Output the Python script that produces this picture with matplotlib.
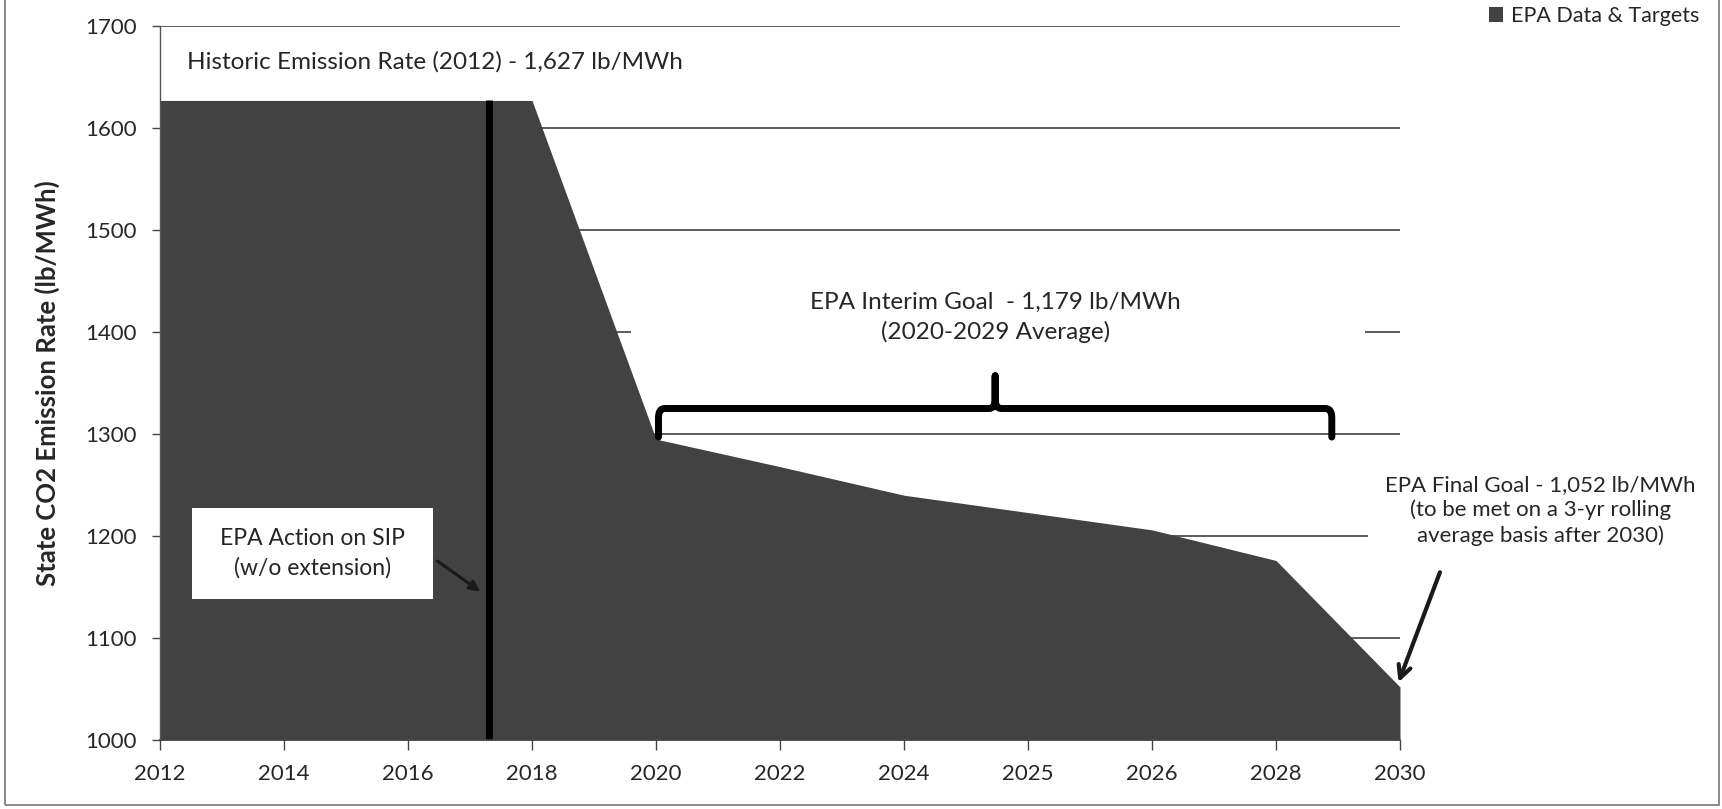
import matplotlib.pyplot as plt
from matplotlib.patches import Rectangle, PathPatch
from matplotlib.path import Path

plt.rcParams["font.family"] = ["Lato", "DejaVu Sans"]

# category axis (evenly spaced, like the original Excel chart)
years = ["2012", "2014", "2016", "2018", "2020", "2022", "2024", "2025", "2026", "2028", "2030"]
rates = [1627, 1627, 1627, 1627, 1295, 1268, 1240, 1223, 1206, 1176, 1052]
series_label = "EPA Data & Targets"

y_ticks = [1000, 1100, 1200, 1300, 1400, 1500, 1600, 1700]
sip_action_pos = 2.65      # between 2016 and 2018
interim_start, interim_end = 4.02, 9.45   # 2020 .. 2029

AREA = "#424242"
TXT = "#262626"

fig = plt.figure(figsize=(17.22, 8.09), dpi=100)
ax = fig.add_axes([160 / 1722, 1 - 740 / 809, 1240 / 1722, 714 / 809])

x = list(range(len(years)))

# gridlines (behind everything)
for v in y_ticks[1:]:
    ax.axhline(v, color="#303030", lw=1.1, zorder=0.5)

# white text boxes which hide parts of the gridlines
ax.add_patch(Rectangle((3.80, 1362), 5.92, 110, facecolor="white", edgecolor="none", zorder=0.8))
ax.add_patch(Rectangle((9.74, 1150), 1.0, 128, facecolor="white", edgecolor="none", zorder=0.8))

ax.fill_between(x, 1000, rates, color=AREA, lw=0, zorder=1, label=series_label)

# EPA action on SIP line
ax.plot([sip_action_pos, sip_action_pos], [1000, rates[0]], color="black", lw=5,
        zorder=2, solid_capstyle="butt", clip_on=False)

# interim goal bracket
yh, yend, ytip = 1325, 1297, 1357
xm = (interim_start + interim_end) / 2
rx, ry = 0.05, 9
verts = [(interim_start, yend), (interim_start, yh - ry), (interim_start, yh), (interim_start + rx, yh),
         (xm - rx, yh), (xm, yh), (xm, yh + ry), (xm, ytip),
         (xm, yh + ry), (xm, yh), (xm + rx, yh),
         (interim_end - rx, yh), (interim_end, yh), (interim_end, yh - ry), (interim_end, yend)]
codes = [Path.MOVETO, Path.LINETO, Path.CURVE3, Path.CURVE3,
         Path.LINETO, Path.CURVE3, Path.CURVE3, Path.LINETO,
         Path.LINETO, Path.CURVE3, Path.CURVE3,
         Path.LINETO, Path.CURVE3, Path.CURVE3, Path.LINETO]
ax.add_patch(PathPatch(Path(verts, codes), fill=False, lw=5, edgecolor="black",
                       capstyle="round", joinstyle="round", zorder=4))

# annotations
ax.text(0.22, 1665, "Historic Emission Rate (2012) - 1,627 lb/MWh", fontsize=17.5,
        color=TXT, ha="left", va="center", zorder=5)
ax.text(xm, 1414, "EPA Interim Goal  - 1,179 lb/MWh\n(2020-2029 Average)", fontsize=17.5,
        color=TXT, ha="center", va="center", linespacing=1.45, zorder=5)
ax.text(11.13, 1225, "EPA Final Goal - 1,052 lb/MWh\n(to be met on a 3-yr rolling\naverage basis after 2030)",
        fontsize=16, color=TXT, ha="center", va="center", linespacing=1.3, zorder=5, clip_on=False)

ax.add_patch(Rectangle((0.26, 1138), 1.94, 89, facecolor="white", edgecolor="none", zorder=3))
ax.text(1.23, 1183, "EPA Action on SIP\n(w/o extension)", fontsize=16.5, color=TXT,
        ha="center", va="center", linespacing=1.45, zorder=5)

ax.annotate("", xy=(2.60, 1144), xytext=(2.22, 1177),
            arrowprops=dict(arrowstyle="-|>,head_length=0.6,head_width=0.3", color="#1a1a1a", lw=2.2),
            zorder=5)
ax.annotate("", xy=(9.98, 1054), xytext=(10.33, 1167), annotation_clip=False,
            arrowprops=dict(arrowstyle="->,head_length=0.9,head_width=0.45", color="#1a1a1a", lw=3),
            zorder=5)

ax.set_xlim(0, 10)
ax.set_ylim(1000, 1700)
ax.set_xticks(x)
ax.set_xticklabels(years)
ax.set_yticks(y_ticks)
ax.tick_params(axis="y", direction="out", length=6, width=1, pad=11, labelsize=16, colors="#444444",
               labelcolor=TXT)
ax.tick_params(axis="x", direction="out", length=7, width=1, pad=10, labelsize=16, colors="#444444",
               labelcolor=TXT)
for s in ["top", "right"]:
    ax.spines[s].set_visible(False)
ax.spines["left"].set_color("#555555")
ax.spines["bottom"].set_color("#444444")
ax.spines["left"].set_linewidth(1)
ax.spines["bottom"].set_linewidth(1.2)

ax.set_ylabel("State CO2 Emission Rate (lb/MWh)", fontsize=18.5, fontweight="bold", color=TXT)
ax.yaxis.set_label_coords(-0.081, 0.5)

fig.legend(loc="upper right", bbox_to_anchor=(1699 / 1722, 1 - 6 / 809), frameon=False,
           fontsize=15.5, handlelength=0.65, handleheight=0.65, handletextpad=0.35,
           borderpad=0, borderaxespad=0, labelcolor=TXT)

# chart area border
fig.add_artist(Rectangle((5 / 1722, 4 / 809), 1714 / 1722, 1.1, transform=fig.transFigure,
                         fill=False, edgecolor="#777777", lw=1.2))

fig.savefig("out.png", dpi=100)
